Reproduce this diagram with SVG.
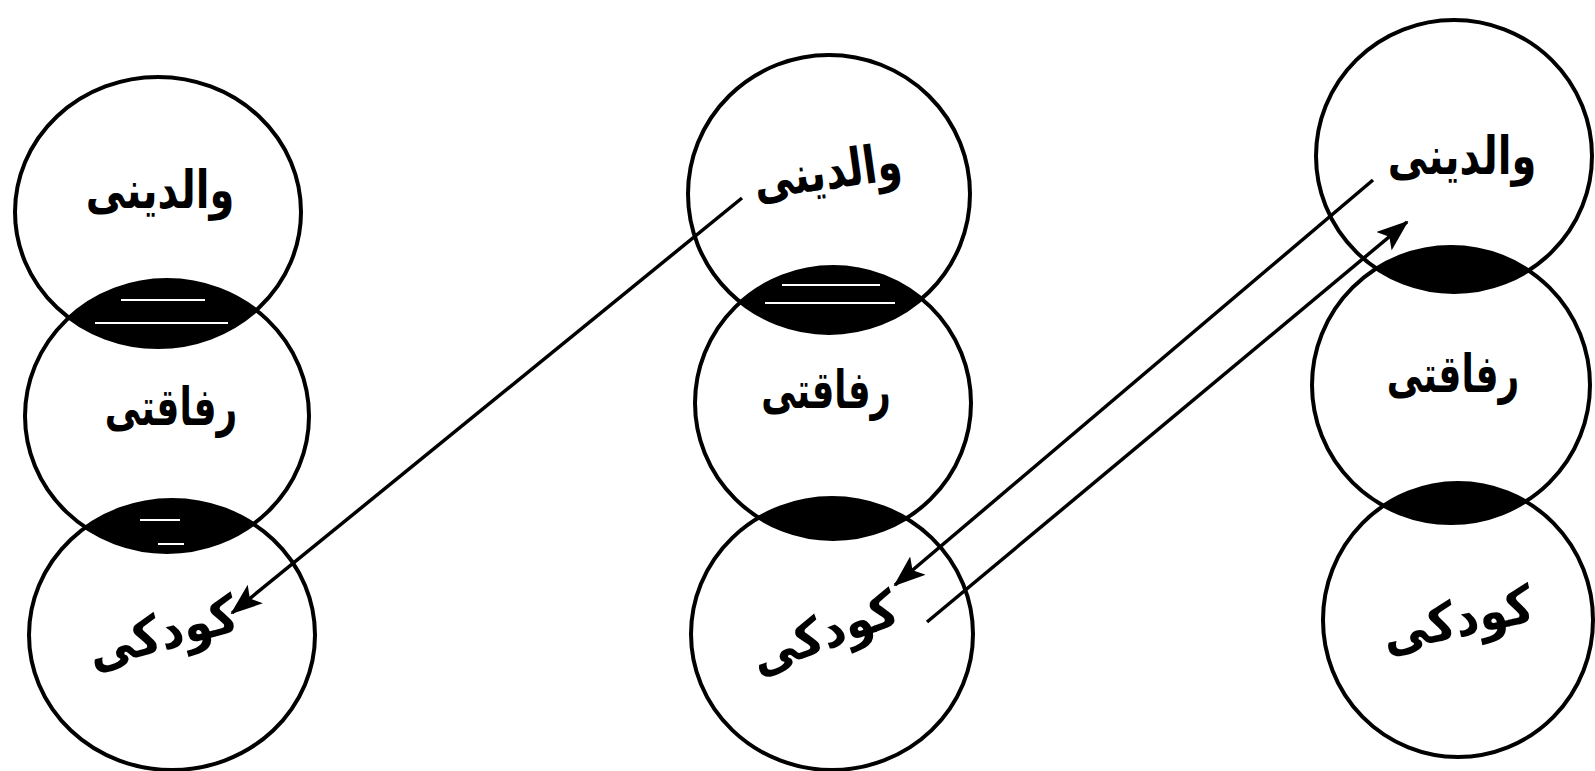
<svg xmlns="http://www.w3.org/2000/svg" width="1595" height="771" viewBox="0 0 1595 771">
<style>
.c{fill:none;stroke:#000;stroke-width:4}
.t{font-family:"DejaVu Sans",sans-serif;font-weight:bold;font-size:40px;fill:#000;text-anchor:middle}
.k{font-family:"DejaVu Sans",sans-serif;font-weight:bold;font-size:42px;fill:#000;text-anchor:middle}
.a{fill:none;stroke:#000;stroke-width:3.5}
.w{stroke:#fff;stroke-width:2}
</style>
<defs>
<marker id="ah" viewBox="0 0 32 24" refX="30" refY="12" markerWidth="32" markerHeight="24" markerUnits="userSpaceOnUse" orient="auto">
<path d="M0,0 L32,12 L0,24 L7,12 Z" fill="#000"/>
</marker>
<clipPath id="cLM"><ellipse cx="167" cy="416" rx="142" ry="136"/></clipPath>
<clipPath id="cLB"><ellipse cx="172" cy="635" rx="143" ry="135"/></clipPath>
<clipPath id="cMM"><ellipse cx="833" cy="403" rx="138" ry="136"/></clipPath>
<clipPath id="cMB"><ellipse cx="832" cy="634" rx="141" ry="136"/></clipPath>
<clipPath id="cRM"><ellipse cx="1451" cy="385" rx="139" ry="138"/></clipPath>
<clipPath id="cRB"><ellipse cx="1458" cy="620" rx="135" ry="137"/></clipPath>
</defs>

<g id="lenses">
<ellipse cx="158" cy="212" rx="143" ry="135" clip-path="url(#cLM)"/>
<ellipse cx="167" cy="416" rx="142" ry="136" clip-path="url(#cLB)"/>
<ellipse cx="829" cy="194" rx="141" ry="139" clip-path="url(#cMM)"/>
<ellipse cx="833" cy="403" rx="138" ry="136" clip-path="url(#cMB)"/>
<ellipse cx="1454" cy="156" rx="138" ry="136" clip-path="url(#cRM)"/>
<ellipse cx="1451" cy="385" rx="139" ry="138" clip-path="url(#cRB)"/>
<line class="w" x1="121" y1="300" x2="205" y2="300"/>
<line class="w" x1="95" y1="323" x2="228" y2="323"/>
<line class="w" x1="140" y1="520" x2="180" y2="520"/>
<line class="w" x1="158" y1="544" x2="184" y2="544"/>
<line class="w" x1="782" y1="285" x2="880" y2="285"/>
<line class="w" x1="765" y1="303" x2="895" y2="303"/>
</g>

<g id="node-left-parents"><ellipse class="c" cx="158" cy="212" rx="143" ry="135"/><text class="t" transform="translate(160,195) scale(1,1.3)" x="0" y="10">والدینی</text></g>
<g id="node-left-companion"><ellipse class="c" cx="167" cy="416" rx="142" ry="136"/><text class="t" transform="translate(171,415) scale(0.9,1.3)" x="0" y="8">رفاقتی</text></g>
<g id="node-left-child"><ellipse class="c" cx="172" cy="635" rx="143" ry="135"/><text class="k" transform="translate(163,635) rotate(-15) scale(1.1,1.25)" x="0" y="12">کودکی</text></g>

<g id="node-mid-parents"><ellipse class="c" cx="829" cy="194" rx="141" ry="139"/><text class="t" transform="translate(828,176) rotate(-8) scale(1,1.3)" x="0" y="10">والدینی</text></g>
<g id="node-mid-companion"><ellipse class="c" cx="833" cy="403" rx="138" ry="136"/><text class="t" transform="translate(826,398) scale(0.88,1.3)" x="0" y="8">رفاقتی</text></g>
<g id="node-mid-child"><ellipse class="c" cx="832" cy="634" rx="141" ry="136"/><text class="k" transform="translate(825,635) rotate(-20) scale(1.1,1.2)" x="0" y="12">کودکی</text></g>

<g id="node-right-parents"><ellipse class="c" cx="1454" cy="156" rx="138" ry="136"/><text class="t" transform="translate(1462,161) scale(1,1.3)" x="0" y="10">والدینی</text></g>
<g id="node-right-companion"><ellipse class="c" cx="1451" cy="385" rx="139" ry="138"/><text class="t" transform="translate(1453,382) scale(0.9,1.3)" x="0" y="8">رفاقتی</text></g>
<g id="node-right-child"><ellipse class="c" cx="1458" cy="620" rx="135" ry="137"/><text class="k" transform="translate(1458,622) rotate(-12) scale(1.1,1.25)" x="0" y="12">کودکی</text></g>

<g id="connectors">
<line class="a" x1="742" y1="198" x2="232" y2="613" marker-end="url(#ah)"/>
<line class="a" x1="1373" y1="180" x2="895" y2="585" marker-end="url(#ah)"/>
<line class="a" x1="927" y1="622" x2="1407" y2="222" marker-end="url(#ah)"/>
</g>
</svg>
